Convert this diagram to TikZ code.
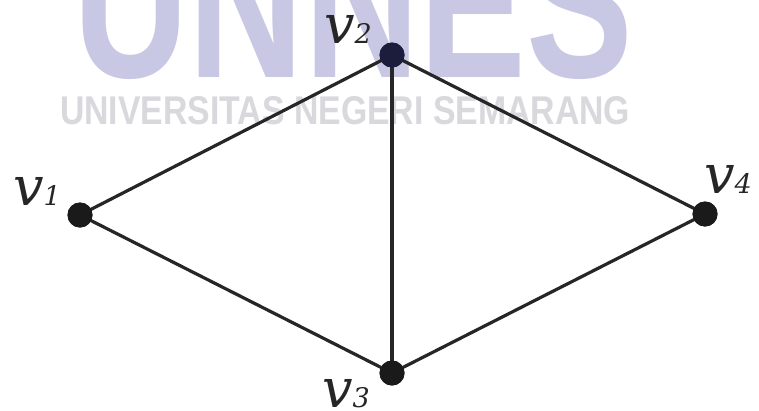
\documentclass[tikz,border=0pt]{standalone}
\usepackage{fontspec}
\setmainfont{DejaVu Serif}
\newfontfamily\wmfont{Liberation Sans}[BoldFont={* Bold}]
\usepackage{graphicx}
\definecolor{wmblue}{RGB}{200,200,228}
\definecolor{wmgray}{RGB}{216,216,221}
\definecolor{edgec}{RGB}{38,38,38}
\definecolor{dotc}{RGB}{26,26,26}
\definecolor{dotb}{RGB}{28,28,60}
\tikzset{
  vtx/.style={circle, fill=dotc, inner sep=0pt, minimum size=25pt},
  edge/.style={draw=edgec, line width=3.2pt},
  vlabel/.style={anchor=base west, inner sep=0pt, text=black!85},
}
\newcommand{\vlab}[1]{{\fontsize{54}{54}\selectfont\itshape v}{\fontsize{27}{27}\selectfont\itshape #1}}
\begin{document}
\begin{tikzpicture}[x=1pt,y=-1pt]
\useasboundingbox (0,0) rectangle (759,410);
\fill[white] (0,0) rectangle (759,410);
% watermark
\node[anchor=south west, inner sep=0pt, text=wmblue] (wm1) at (73,80)
  {\resizebox{560pt}{150pt}{\wmfont\bfseries UNNES}};
\node[anchor=south west, inner sep=0pt, text=wmgray] (wm2) at (60,125)
  {\resizebox{570pt}{28pt}{\wmfont\bfseries UNIVERSITAS NEGERI SEMARANG}};
% vertices
\node[vtx] (v1) at (80,215) {};
\node[vtx, fill=dotb] (v2) at (392,55) {};
\node[vtx] (v3) at (392,373) {};
\node[vtx] (v4) at (705,214) {};
% edges
\draw[edge] (v1.center) -- (v2.center);
\draw[edge] (v2.center) -- (v3.center);
\draw[edge] (v2.center) -- (v4.center);
\draw[edge] (v1.center) -- (v3.center);
\draw[edge] (v3.center) -- (v4.center);
% redraw vertices on top
\fill[dotc] (v1) circle (12.5pt);
\fill[dotb] (v2) circle (12.5pt);
\fill[dotc] (v3) circle (12.5pt);
\fill[dotc] (v4) circle (12.5pt);
% labels
\node[vlabel] (l1) at (13,205) {\vlab{1}};
\node[vlabel] (l2) at (324,43) {\vlab{2}};
\node[vlabel] (l3) at (322,407) {\vlab{3}};
\node[vlabel] (l4) at (704,193) {\vlab{4}};
\end{tikzpicture}
\end{document}
